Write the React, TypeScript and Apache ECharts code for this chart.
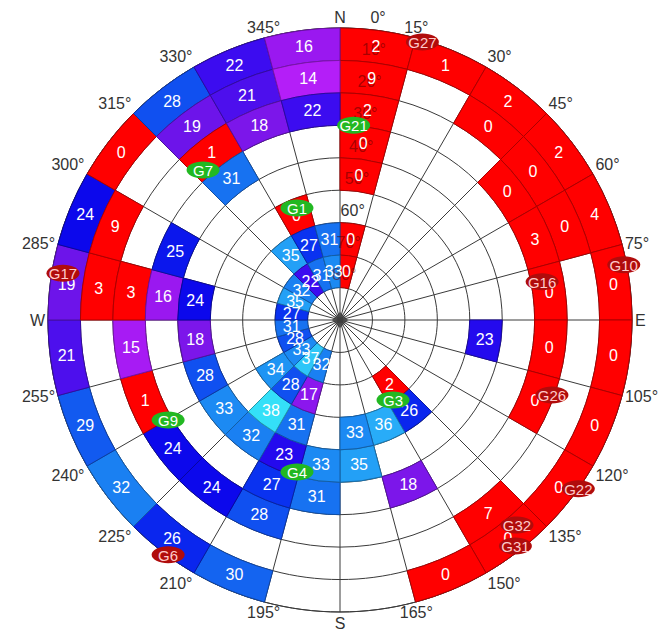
import React, { useEffect, useRef } from 'react';
import * as echarts from 'echarts';

// Sky grid: 24 azimuth sectors of 15°, rings of 10° elevation (ring 0 = 0-10°)
const azimuthStep = 15;
const elevationStep = 10;

// SNR values per ring (index = azimuth sector, 0 = 0°-15°), null = no data
const ring0 = [2, 1, 2, 2, 4, 0, 0, 0, 0, 0, 0, null, null, 30, 26, 32, 29, 21, 19, 24, 0, 28, 22, 16];
const ring1 = [9, null, 0, 0, 0, null, null, null, null, 7, null, null, null, null, null, null, null, null, 3, 9, null, 19, 21, 14];
const ring2 = [2, null, null, 0, 3, 0, 0, 0, null, null, null, null, null, 28, 24, 24, 1, 15, 3, null, null, 1, 18, 22];
const ring3 = [0, null, null, null, null, null, null, null, null, null, 18, null, 31, 27, null, null, null, null, 16, 25, null, 31, null, null];
const ring4 = [0, null, null, null, null, null, 23, null, null, null, null, 35, 33, 23, 32, 33, 28, 18, 24, null, null, null, null, null];
const ring5 = [null, null, null, null, null, null, null, null, null, 26, 36, 33, null, 31, 38, null, null, null, null, null, null, null, 0, null];
const ring6 = [0, null, null, null, null, null, null, null, null, 2, null, null, null, 17, 28, 34, null, null, null, null, null, 35, 27, 31];
const ring7 = [0, null, null, null, null, null, null, null, null, null, null, null, null, 32, 37, 33, 28, 31, 27, 35, 32, 22, 31, 33];

// Satellites
const satNames = ['G27', 'G21', 'G7', 'G1', 'G10', 'G16', 'G17', 'G26', 'G22', 'G32', 'G31', 'G6', 'G9', 'G4', 'G3'];
const satAz = [16.5, 4, 317.6, 339, 79, 79.3, 279.6, 109.5, 125.3, 139.2, 142.2, 216.2, 239.8, 195.8, 146.5];
const satEl = [0.6, 29.8, 27.4, 53, 0.9, 26.6, 3.4, 20.7, 0, 6.5, 1.8, 0.3, 28.7, 41.3, 60.4];
const satUsed = [false, true, true, true, false, false, false, false, false, false, false, false, true, true, true];

// Elevation tick labels
const elevTicks = [0, 10, 20, 30, 40, 50, 60, 70, 80];
const elevLabelAz = 7.5;

// SNR colour scale
const snrStops: [number, string][] = [
  [0, '#ff0000'], [12, '#ff0000'], [14, '#b41ef8'], [16, '#9a18f0'], [18, '#7c16ea'],
  [20, '#5e12ea'], [22, '#3c0cf0'], [24, '#0c08ec'], [26, '#0a26ee'], [27, '#0a32f0'],
  [28, '#1050f0'], [30, '#1464f0'], [32, '#1a80f2'], [34, '#1e94f4'], [36, '#28acf8'], [38, '#34e0f8'],
];

function hexToRgb(h: string): number[] {
  const n = parseInt(h.slice(1), 16);
  return [(n >> 16) & 255, (n >> 8) & 255, n & 255];
}
function rgbToHex(c: number[]): string {
  return '#' + c.map((x) => Math.max(0, Math.min(255, Math.round(x))).toString(16).padStart(2, '0')).join('');
}
function snrColor(v: number): string {
  if (v <= snrStops[0][0]) return snrStops[0][1];
  for (let i = 1; i < snrStops.length; i++) {
    if (v <= snrStops[i][0]) {
      const [v0, c0] = snrStops[i - 1];
      const [v1, c1] = snrStops[i];
      const t = (v - v0) / (v1 - v0);
      const a = hexToRgb(c0), b = hexToRgb(c1);
      return rgbToHex(a.map((x, j) => x + (b[j] - x) * t));
    }
  }
  return snrStops[snrStops.length - 1][1];
}
function darken(c: string, f = 0.68): string {
  return rgbToHex(hexToRgb(c).map((x) => x * f));
}

const FONT = '"Liberation Sans", Arial, sans-serif';

export default function App() {
  const ref = useRef<HTMLDivElement>(null);
  useEffect(() => {
    if (!ref.current) return;
    const chart = echarts.init(ref.current, null, { renderer: 'svg' });
    const rings = [ring0, ring1, ring2, ring3, ring4, ring5, ring6, ring7];
    const cellData: number[][] = [];
    rings.forEach((ring, k) =>
      ring.forEach((v, s) => {
        if (v !== null) cellData.push([k * elevationStep + elevationStep / 2, s * azimuthStep + azimuthStep / 2, v, k, s]);
      })
    );
    const elevData = elevTicks.map((e) => [e, elevLabelAz]);
    const satData = satEl.map((e, i) => [e, satAz[i]]);
    const dirNames: Record<number, string> = { 0: 'N', 90: 'E', 180: 'S', 270: 'W' };

    const option: any = {
      animation: false,
      backgroundColor: '#ffffff',
      polar: { center: [340, 320], radius: 292 },
      angleAxis: {
        type: 'value',
        min: 0,
        max: 360,
        interval: azimuthStep,
        startAngle: 90,
        clockwise: true,
        axisLine: { show: true, lineStyle: { color: '#3a3a3a', width: 1 } },
        axisTick: { show: false },
        axisLabel: {
          margin: 3,
          color: '#333',
          fontSize: 16,
          fontFamily: FONT,
          formatter: (v: number) => (v === 360 ? '' : dirNames[v] !== undefined ? dirNames[v] : v + '°'),
        },
        splitLine: { show: true, lineStyle: { color: '#3a3a3a', width: 1 } },
      },
      radiusAxis: {
        type: 'value',
        min: 0,
        max: 90,
        interval: elevationStep,
        inverse: true,
        axisLine: { show: false },
        axisTick: { show: false },
        axisLabel: { show: false },
        splitLine: { show: true, lineStyle: { color: '#3a3a3a', width: 1 } },
      },
      series: [
        {
          type: 'custom',
          coordinateSystem: 'polar',
          z: 2,
          data: cellData,
          encode: { radius: 0, angle: 1 },
          renderItem: (params: any, api: any) => {
            const cs = params.coordSys;
            const cx = cs.cx, cy = cs.cy;
            const v = api.value(2), k = api.value(3), s = api.value(4);
            const elOuter = k * elevationStep, elInner = elOuter + elevationStep;
            const az0 = s * azimuthStep, az1 = az0 + azimuthStep;
            const p0 = api.coord([elOuter, az0]);
            const p1 = api.coord([elOuter, az1]);
            const pi = api.coord([elInner, az0]);
            const r = Math.hypot(p0[0] - cx, p0[1] - cy);
            const r0 = Math.hypot(pi[0] - cx, pi[1] - cy);
            const a0 = Math.atan2(p0[1] - cy, p0[0] - cx);
            let a1 = Math.atan2(p1[1] - cy, p1[0] - cx);
            if (a1 < a0) a1 += Math.PI * 2;
            const fill = snrColor(v);
            return {
              type: 'sector',
              shape: { cx, cy, r, r0, startAngle: a0, endAngle: a1, clockwise: true },
              style: { fill, stroke: darken(fill), lineWidth: 1 },
            };
          },
        },
        {
          type: 'custom',
          coordinateSystem: 'polar',
          z: 3,
          data: elevData,
          encode: { radius: 0, angle: 1 },
          renderItem: (params: any, api: any) => {
            const e = api.value(0);
            const p = api.coord([e, api.value(1)]);
            const ringIdx = e / elevationStep - 1;
            const under = ringIdx >= 0 ? rings[ringIdx][0] : null;
            return {
              type: 'text',
              x: p[0],
              y: p[1] - 5,
              style: {
                text: e + '°',
                fill: under !== null ? 'rgba(90,0,0,0.55)' : '#333',
                font: '16px ' + FONT,
                align: 'center',
                verticalAlign: 'bottom',
              },
            };
          },
        },
        {
          type: 'custom',
          coordinateSystem: 'polar',
          z: 4,
          data: cellData,
          encode: { radius: 0, angle: 1 },
          renderItem: (params: any, api: any) => {
            const p = api.coord([api.value(0), api.value(1)]);
            return {
              type: 'text',
              x: p[0],
              y: p[1],
              style: {
                text: String(api.value(2)),
                fill: '#ffffff',
                font: '16px ' + FONT,
                align: 'center',
                verticalAlign: 'middle',
              },
            };
          },
        },
        {
          type: 'custom',
          coordinateSystem: 'polar',
          z: 5,
          data: satData,
          encode: { radius: 0, angle: 1 },
          renderItem: (params: any, api: any) => {
            const i = params.dataIndex;
            const p = api.coord([api.value(0), api.value(1)]);
            const used = satUsed[i];
            return {
              type: 'group',
              children: [
                {
                  type: 'ellipse',
                  shape: { cx: p[0], cy: p[1], rx: 16.5, ry: 8.5 },
                  style: { fill: used ? '#22b822' : '#b00c0c' },
                },
                {
                  type: 'text',
                  x: p[0],
                  y: p[1] + 0.5,
                  style: {
                    text: satNames[i],
                    fill: used ? '#ffffff' : '#ffcaca',
                    font: '15px ' + FONT,
                    align: 'center',
                    verticalAlign: 'middle',
                  },
                },
              ],
            };
          },
        },
        {
          type: 'scatter',
          coordinateSystem: 'polar',
          z: 6,
          symbol: 'diamond',
          symbolSize: 16,
          itemStyle: { color: '#404040' },
          data: [[90, 0]],
        },
      ],
    };
    chart.setOption(option);
    return () => chart.dispose();
  }, []);
  return <div ref={ref} style={{ position: 'fixed', left: 0, top: 0, width: 660, height: 632 }} />;
}
